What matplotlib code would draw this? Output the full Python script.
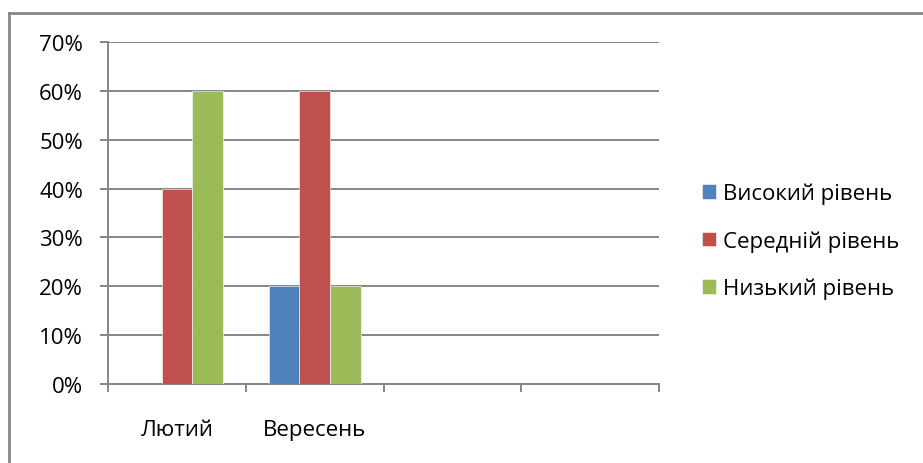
import matplotlib
matplotlib.use('Agg')
import matplotlib.pyplot as plt
import numpy as np
from matplotlib.lines import Line2D

plt.rcParams['font.family'] = ['Open Sans', 'DejaVu Sans']

# categories (last two slots are empty on the axis)
months = ['Лютий', 'Вересень', '', '']
series = ['Високий рівень', 'Середній рівень', 'Низький рівень']
high = [0, 20, 0, 0]
medium = [40, 60, 0, 0]
low = [60, 20, 0, 0]
colors = ['#4F81BD', '#C0504D', '#9BBB59']

FS = 16

fig = plt.figure(figsize=(9.23, 4.64), dpi=100)
ax = fig.add_axes([108/923, 79/464, 551/923, 342/464])

x = np.arange(len(months))
w = 0.223
for i, (vals, c, name) in enumerate(zip([high, medium, low], colors, series)):
    ax.bar(x + (i - 1) * w, vals, width=w, color=c, edgecolor='white',
           linewidth=0.4, label=name, zorder=3)

ax.set_xlim(-0.5, len(months) - 0.5)
ax.set_ylim(0, 70)
ax.set_yticks(range(0, 71, 10))
ax.set_yticklabels([f'{v}%' for v in range(0, 71, 10)], fontsize=FS)
ax.yaxis.grid(True, color='#868686', linewidth=1.4, zorder=0)

# ticks at category borders, labels at category centres
ax.set_xticks(np.arange(-0.5, len(months), 1))
ax.set_xticklabels([])
ax.set_xticks(x, minor=True)
ax.set_xticklabels(months, minor=True, fontsize=FS)
ax.tick_params(axis='x', which='major', length=6, width=1.4, color='#868686')
ax.tick_params(axis='x', which='minor', length=0, pad=25)
ax.tick_params(axis='y', length=6, width=1.4, color='#868686', pad=12)

for s in ['top', 'right']:
    ax.spines[s].set_visible(False)
for s in ['left', 'bottom']:
    ax.spines[s].set_color('#868686')
    ax.spines[s].set_linewidth(1.4)

handles, labels = ax.get_legend_handles_labels()
fig.legend(handles, labels, loc='center left', bbox_to_anchor=(682/923, 222/464),
           frameon=False, fontsize=FS, handlelength=0.65, handleheight=0.65,
           handletextpad=0.3, labelspacing=1.17)

# chart frame (top and left edges)
fig.add_artist(Line2D([9/923, 1], [1 - 14/464, 1 - 14/464], color='#868686', linewidth=2))
fig.add_artist(Line2D([9/923, 9/923], [0, 1 - 14/464], color='#868686', linewidth=2))

fig.savefig('out.png', dpi=100)
